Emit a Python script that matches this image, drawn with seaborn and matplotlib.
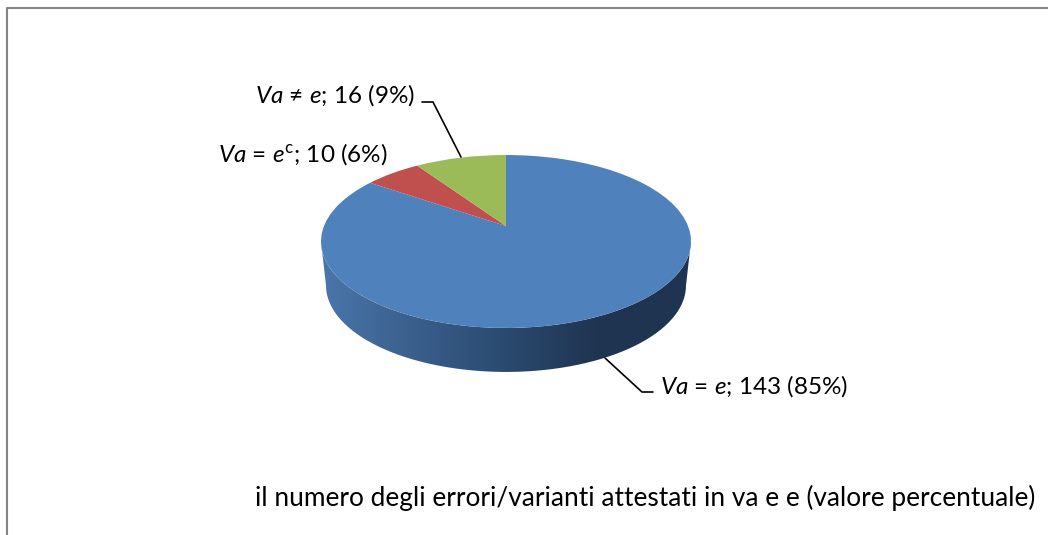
import numpy as np
import seaborn as sns
import matplotlib.pyplot as plt
from matplotlib import transforms as mtrans
from matplotlib.path import Path
from matplotlib.patches import PathPatch
from matplotlib.colors import LinearSegmentedColormap

names = ["Va = e", "Va = e^c", "Va != e"]
counts = [143, 10, 16]
percents = [85, 6, 9]
colors = ["#4f81bd", "#c0504d", "#9bbb59"]
title = "il numero degli errori/varianti attestati in va e e (valore percentuale)"

sns.set_theme(style="white")
plt.rcParams["font.family"] = ["Lato", "DejaVu Sans"]
plt.rcParams["mathtext.fontset"] = "custom"
plt.rcParams["mathtext.rm"] = "Lato"
plt.rcParams["mathtext.it"] = "Lato:italic"
plt.rcParams["mathtext.default"] = "it"

# pie seen in perspective, unit circle -> pixels
cx, cy = 506, 226
rx, ry, k = 182, 83.7, 0.179


class Tilt(mtrans.Transform):
    input_dims = 2
    output_dims = 2

    def transform_non_affine(self, values):
        values = np.asarray(values)
        w = 1 + k * values[:, 1]
        return np.column_stack([cx + rx * values[:, 0] / w, cy - ry * values[:, 1] / w])


fig = plt.figure(figsize=(10.48, 5.35), dpi=100)
ax = fig.add_axes([0, 0, 1, 1])

wedges, _ = ax.pie(counts, colors=sns.color_palette(colors), startangle=90, counterclock=False)
tilt = Tilt()
for w in wedges:
    w.set_transform(tilt + ax.transData)
    w.set_linewidth(0)
    w.set_zorder(3)

ax.set_aspect("auto")

# side wall of the pie, between the two widest points of the rim
t0 = np.arcsin(k)
t = np.linspace(t0, np.pi - t0, 200)
rim = tilt.transform(np.column_stack([np.cos(t), -np.sin(t)]))
low = np.column_stack([cx + (rim[:, 0] - cx) * 0.973, rim[:, 1] + 44])
wall = np.vstack([rim, low[::-1], rim[:1]])
shade = LinearSegmentedColormap.from_list("shade", ["#4a76aa", "#3a5f8c", "#2a4a6f", "#1f3450", "#1f3450"])
img = ax.imshow(np.linspace(0, 1, 256)[None, :], cmap=shade, extent=(321, 691, 380, 235), aspect="auto", zorder=2)
img.set_clip_path(PathPatch(Path(wall), transform=ax.transData))
ax.set_xlim(0, 1048)
ax.set_ylim(535, 0)

# frame, open at the bottom and on the right
ax.plot([7, 7, 1048], [535, 7.5, 7.5], color="#868686", lw=1.5, zorder=1)

# leader lines
ax.plot([422, 433, 461], [102, 102, 157], color="black", lw=1.2, zorder=4)
ax.plot([605, 642, 653], [358, 392, 392], color="black", lw=1.2, zorder=4)

fs = 17.5
ax.text(660, 386, f"$Va$ = $e$; {counts[0]} ({percents[0]}%)", fontsize=fs, color="black", va="center", ha="left")
ax.text(388, 154, f"$Va$ = $e^{{\\mathrm{{c}}}}$; {counts[1]} ({percents[1]}%)", fontsize=fs, color="black", va="center", ha="right")
ax.text(415, 95, f"$Va$ ≠ $e$; {counts[2]} ({percents[2]}%)", fontsize=fs, color="black", va="center", ha="right")
ax.text(1035, 498, title, fontsize=18.9, color="black", va="center", ha="right")

ax.axis("off")
fig.savefig("out.png", dpi=100)
